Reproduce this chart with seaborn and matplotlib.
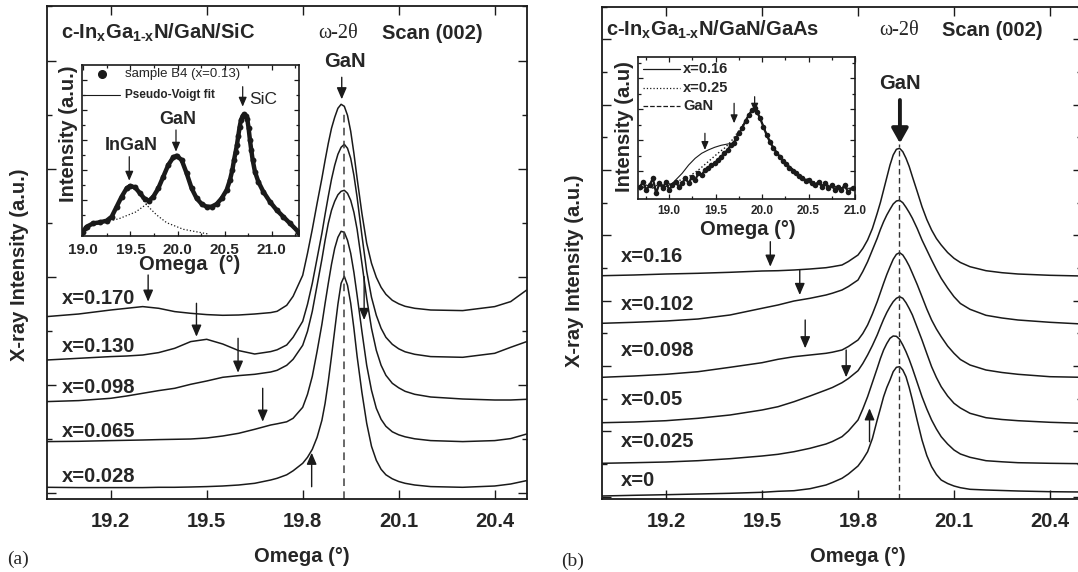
import matplotlib
matplotlib.use("Agg")
import matplotlib.pyplot as plt
import seaborn as sns
import pandas as pd
from matplotlib.ticker import MultipleLocator, FixedLocator, FormatStrFormatter

# ======================= DATA =======================
# ---- Panel (a): c-InxGa1-xN/GaN/SiC, omega-2theta scan (002), stacked curves (a.u.)
omega_a = [19.0, 19.1, 19.2, 19.25, 19.3, 19.35, 19.4, 19.45, 19.5, 19.55, 19.6, 19.65, 19.7,
           19.72, 19.75, 19.77, 19.8, 19.815, 19.83, 19.845, 19.86, 19.87, 19.88, 19.89,
           19.9, 19.91, 19.92, 19.93, 19.94, 19.95, 19.96, 19.97, 19.985, 20.0, 20.015,
           20.03, 20.045, 20.06, 20.08, 20.1, 20.12, 20.15, 20.2, 20.3, 20.4, 20.45, 20.5]
a_x0170 = [176.7, 179.3, 183.3, 185, 186.7, 185, 181.7, 180, 178.7, 178, 178.3, 179.3, 180.7,
           182, 188, 197, 218, 240, 264, 290, 315, 333, 350, 365,
           376, 385, 389, 387, 378, 362, 340, 315, 280, 250, 230,
           216, 206, 199, 193, 189.5, 187, 185, 183.3, 182.7, 186.7, 191.7, 203.3]
a_x0130 = [133.3, 135, 136.7, 137.3, 138.3, 140.7, 145, 151.7, 154, 149.3, 142.7, 139.3, 141.7,
           143.5, 148.3, 156, 172, 189, 210, 235, 260, 279, 297, 314,
           328, 339, 346, 349, 345, 335, 318, 296, 258, 222, 196,
           178, 165, 156, 149, 144.5, 141.5, 139, 136.7, 136, 140, 146, 151.7]
a_x0098 = [91.7, 92.7, 95, 97.3, 100, 102.7, 105, 109, 112.3, 116, 117.7, 119, 121.3,
           123, 128, 134, 148, 162, 182, 208, 234, 253, 270, 283,
           292, 298.5, 302, 303, 300, 293, 281, 264, 230, 195, 165,
           143, 128, 118, 110, 105.5, 102, 99, 96.3, 94.3, 93.3, 93.3, 94]
a_x0065 = [51.7, 52, 52.7, 53, 53.3, 53.7, 54, 54.3, 55.3, 57.3, 60, 64, 68.3,
           69.5, 71.5, 75, 86, 99, 117, 142, 169, 190, 210, 229,
           245, 256, 262, 261, 253, 240, 221, 198, 162, 128, 103,
           85, 74, 67, 61.5, 58.5, 56.5, 54.5, 52.7, 51.7, 52.7, 54.7, 59.3]
a_x0028 = [6, 5.7, 5.7, 5.7, 5.7, 6, 6, 6.3, 6.7, 7.3, 8.3, 10, 13.3,
           15, 18.5, 22.5, 30, 36, 44, 56, 73, 90, 112, 137,
           163, 189, 210, 217, 208, 190, 165, 137, 101, 70, 47,
           33, 24, 18.5, 14.5, 11.8, 10, 8.3, 6.7, 6, 7.3, 9.3, 12.7]
labels_a = ["x=0.170", "x=0.130", "x=0.098", "x=0.065", "x=0.028"]
gan_peak_a = 19.928
arrows_a_omega = [19.317, 19.468, 19.598, 19.675, 19.992, 19.828]
arrows_a_from = [218.3, 190, 155, 105, 216.6, 6.6]
arrows_a_to = [191.6, 156.6, 120.6, 71.6, 173.3, 40.6]

# ---- Inset (a): sample B4 (x=0.13)
ins_a_omega = [18.993, 19.036, 19.107, 19.178, 19.248, 19.301, 19.354, 19.407, 19.460, 19.496,
               19.549, 19.602, 19.655, 19.697, 19.743, 19.796, 19.849, 19.902, 19.955, 19.990,
               20.044, 20.097, 20.150, 20.203, 20.256, 20.309, 20.362, 20.416, 20.469, 20.522,
               20.557, 20.582, 20.600, 20.617, 20.631, 20.645, 20.660, 20.674, 20.691, 20.709,
               20.727, 20.741, 20.755, 20.769, 20.783, 20.798, 20.822, 20.858, 20.911, 20.981,
               21.052, 21.123, 21.193, 21.282]
ins_a_int = [4.3, 9.3, 12.7, 13.7, 15.3, 19.3, 29.3, 39.3, 47.7, 50,
             48.7, 42.7, 36.7, 35.3, 39.3, 47.7, 59.3, 71, 78.7, 80.3,
             76, 62.7, 47.7, 37.7, 32, 29.3, 29.3, 32, 37.7, 46,
             56, 66, 76, 84, 91, 100, 109.3, 116, 120, 121.7,
             120.3, 116.7, 107.7, 96, 86, 76, 64.3, 54.3, 44.3, 34.3,
             26, 19.3, 12.7, 4.3]
comp_gan_omega = [19.007, 19.202, 19.379, 19.556, 19.708, 19.796]
comp_gan_int = [9.3, 13.3, 17.3, 24, 34.3, 44.3]
comp_ingan_omega = [19.620, 19.690, 19.779, 19.885, 20.062, 20.327]
comp_ingan_int = [37.7, 29.3, 21, 13.3, 6.7, 2]

# ---- Panel (b): c-InxGa1-xN/GaN/GaAs
omega_b = [19.0, 19.1, 19.2, 19.3, 19.4, 19.5, 19.55, 19.6, 19.65, 19.7,
           19.72, 19.75, 19.77, 19.8, 19.815, 19.83, 19.845, 19.86, 19.87, 19.88, 19.89,
           19.9, 19.91, 19.92, 19.93, 19.94, 19.95, 19.96, 19.97, 19.985, 20.0, 20.015,
           20.03, 20.045, 20.06, 20.08, 20.1, 20.12, 20.15, 20.2, 20.25, 20.3, 20.4, 20.5]
b_x016 = [220.8, 221.5, 222.5, 223.2, 224.2, 225.5, 225.8, 226.5, 227.5, 228.8,
          229.8, 231.5, 235, 241.5, 248, 256.5, 268, 283.2, 294, 306.5, 319,
          331.5, 341.5, 347.2, 348.2, 344.8, 338.2, 330, 319.8, 305, 289.8, 277,
          266.5, 258, 251.5, 244, 238.2, 234, 229.8, 225.8, 223.8, 222.5, 221.2, 220.5]
b_x0102 = [173.2, 174.2, 175.5, 177.5, 181.5, 188.2, 191.5, 195.5, 198.2, 201.5,
           203.3, 206.5, 210, 216.5, 225, 234.8, 246.5, 258.2, 267, 274.8, 281.5,
           287.2, 292.5, 295.5, 296.2, 293.8, 289.2, 284, 278.2, 268, 256.5, 246.5,
           236.5, 227, 218.2, 208.5, 199.8, 193, 187.2, 181.2, 178.5, 176.5, 174.2, 172.5]
b_x0098 = [119.2, 120.5, 122.2, 124.8, 129.2, 133.8, 137.2, 139.8, 141.5, 143.2,
           144.3, 146.5, 150, 156.5, 163, 171.5, 182.5, 194.8, 204, 213.2, 222,
           229.8, 237.2, 242.2, 243.8, 241.5, 236.5, 230.5, 223.2, 212, 199.8, 187.5,
           176.5, 167.5, 159.8, 150.5, 143.2, 137, 131.5, 126.5, 124, 122.2, 119.8, 119.2]
b_x005 = [73.8, 74.5, 75.8, 78.2, 81.5, 86.5, 89.8, 94.8, 100.5, 106.5,
          109, 113.8, 118, 125.8, 133, 141.5, 151, 161.5, 169.5, 177.2, 184,
          189.8, 194.8, 198.2, 199.8, 198.2, 193.8, 188, 181.5, 169, 156.5, 143,
          129.8, 119, 109.8, 100.5, 93.2, 88.5, 83.2, 78.8, 77, 75.8, 74.2, 73.2]
b_x0025 = [33.2, 33.8, 34.5, 35.8, 37.8, 40.5, 42.2, 44.8, 48.2, 52.5,
           55, 59.8, 65.5, 76.5, 87.5, 99.8, 114, 128.2, 138, 146.5, 153,
           158.2, 160.5, 160.2, 157.2, 151.5, 144.8, 137, 128.2, 114, 99.8, 87.5,
           76.5, 67.5, 59.8, 52.5, 46.5, 42.5, 39.2, 35.8, 34.7, 33.8, 33.2, 32.8]
b_x0 = [0.5, 1.2, 1.8, 2.5, 3.2, 4.2, 5.2, 5.8, 7.8, 11.5,
        14, 18.2, 22.5, 30.5, 37, 44.8, 58, 76.5, 88, 99.8, 109,
        116.5, 124.8, 129.2, 129.8, 126.5, 119.8, 109, 96.5, 76, 56.5, 41,
        29.8, 22, 16.5, 13, 10.5, 8.8, 7.2, 6.5, 6, 5.5, 4.8, 4.5]
labels_b = ["x=0.16", "x=0.102", "x=0.098", "x=0.05", "x=0.025", "x=0"]
gan_peak_b = 19.928
arrows_b_omega = [19.526, 19.618, 19.635, 19.763, 19.836]
arrows_b_from = [254.8, 226.5, 176.5, 146.5, 54.8]
arrows_b_to = [229.8, 201.5, 148.2, 119.2, 88.2]

# ---- Inset (b)
ins_b_gan_omega = [18.685, 18.720, 18.755, 18.790, 18.825, 18.860, 18.895, 18.930, 18.965, 19.000,
                   19.035, 19.070, 19.105, 19.140, 19.175, 19.210, 19.245, 19.280, 19.315, 19.350,
                   19.385, 19.420, 19.455, 19.490, 19.524, 19.559, 19.594, 19.629, 19.664, 19.699,
                   19.717, 19.752, 19.787, 19.822, 19.857, 19.892, 19.920, 19.944, 19.979, 20.014,
                   20.049, 20.084, 20.119, 20.154, 20.189, 20.224, 20.259, 20.294, 20.329, 20.364,
                   20.399, 20.434, 20.469, 20.503, 20.538, 20.573, 20.608, 20.643, 20.678, 20.713,
                   20.748, 20.783, 20.818, 20.853, 20.888, 20.923, 20.976]
ins_b_gan_int = [11.0, 16.0, 7.7, 12.7, 19.4, 4.4, 14.4, 9.4, 16.0, 7.7,
                 12.7, 16.0, 11.0, 14.4, 19.4, 14.4, 21.0, 17.7, 24.4, 22.7,
                 27.7, 29.4, 32.7, 34.4, 37.7, 41.0, 44.4, 47.7, 52.7, 55.0,
                 59.4, 64.4, 70.0, 76.7, 82.7, 87.7, 89.4, 86.0, 79.4, 71.0,
                 62.7, 56.0, 50.0, 45.0, 41.0, 37.0, 33.4, 30.0, 27.0, 24.4,
                 21.7, 19.4, 16.7, 17.7, 14.4, 12.7, 16.0, 11.0, 14.4, 9.4,
                 12.7, 7.7, 11.0, 7.7, 12.7, 6.0, 9.4]
ins_b_016_omega = [18.685, 18.755, 18.825, 18.895, 18.965, 19.035, 19.070, 19.140, 19.210, 19.280,
                   19.350, 19.420, 19.490, 19.559, 19.629, 19.682, 19.717, 19.752, 19.787, 19.822,
                   19.857, 19.892, 19.920, 19.944, 19.979, 20.014, 20.049, 20.084, 20.119, 20.189,
                   20.259, 20.329, 20.399, 20.469, 20.538, 20.608, 20.678, 20.748, 20.818, 20.888,
                   20.976]
ins_b_016_int = [7.7, 12.7, 9.4, 14.4, 11.0, 14.4, 17.7, 24.4, 32.7, 39.4,
                 44.4, 47.7, 50.4, 52.4, 53.7, 54.4, 58.4, 64.4, 70.4, 77.0,
                 82.7, 87.7, 89.4, 86.0, 79.4, 71.7, 63.7, 57.0, 51.0, 41.7,
                 34.4, 27.7, 22.4, 18.4, 15.7, 13.7, 12.4, 11.0, 10.4, 9.7,
                 9.0]
ins_b_025_omega = [18.685, 18.860, 19.035, 19.210, 19.315, 19.420, 19.524, 19.594, 19.664, 19.717,
                   19.769, 19.822, 19.874, 19.920, 19.979, 20.049, 20.119, 20.259, 20.434, 20.608,
                   20.783, 20.976]
ins_b_025_int = [9.4, 11.0, 14.4, 21.0, 27.7, 36.0, 44.4, 49.4, 56.0, 62.7,
                 69.4, 77.0, 84.4, 89.0, 80.0, 63.7, 51.0, 34.4, 20.4, 14.4,
                 11.0, 9.4]
ins_b_arrow_omega = [19.920, 19.699, 19.385]
ins_b_arrow_from = [101.0, 94.4, 64.4]
ins_b_arrow_to = [86.0, 74.4, 47.7]

# ======================= STYLE =======================
W, H, DPI = 1078, 572, 100
sns.set_theme(style="ticks")
plt.rcParams["font.family"] = ["Liberation Sans", "DejaVu Sans"]
plt.rcParams["font.weight"] = "bold"
plt.rcParams["mathtext.fontset"] = "custom"
plt.rcParams["mathtext.rm"] = "Liberation Sans:bold"
plt.rcParams["mathtext.it"] = "Liberation Sans:bold"
plt.rcParams["mathtext.bf"] = "Liberation Sans:bold"
SERIF = ["Liberation Serif", "DejaVu Serif"]
FS = 14.5

fig = plt.figure(figsize=(W / DPI, H / DPI), dpi=DPI)


def fx(px):
    return px / W


def fy(py):
    return 1 - py / H


def rect(x0, y0, x1, y1):
    return [fx(x0), fy(y1), (x1 - x0) / W, (y1 - y0) / H]


ax_a = fig.add_axes(rect(46.7, 6.0, 526.7, 499.3))
ax_b = fig.add_axes(rect(602.0, 6.5, 1082.0, 499.3))


def long_df(omega, curves, labels):
    frames = []
    for c, lab in zip(curves, labels):
        frames.append(pd.DataFrame({"omega": omega, "I": c, "sample": lab}))
    return pd.concat(frames, ignore_index=True)


df_a = long_df(omega_a, [a_x0170, a_x0130, a_x0098, a_x0065, a_x0028], labels_a)
df_b = long_df(omega_b, [b_x016, b_x0102, b_x0098, b_x005, b_x0025, b_x0], labels_b)

for ax, df in ((ax_a, df_a), (ax_b, df_b)):
    sns.lineplot(data=df, x="omega", y="I", units="sample", estimator=None,
                 color="k", lw=1.1, ax=ax, legend=False)


def style_main(ax, ylim, ymaj):
    ax.set_xlim(19.0, 20.5)
    ax.set_ylim(*ylim)
    ax.xaxis.set_major_locator(FixedLocator([19.2, 19.5, 19.8, 20.1, 20.4]))
    ax.xaxis.set_major_formatter(FormatStrFormatter("%.1f"))
    ax.yaxis.set_major_locator(MultipleLocator(ymaj))
    ax.yaxis.set_minor_locator(MultipleLocator(ymaj / 2))
    ax.tick_params(which="both", direction="in", top=True, right=True, labelleft=False,
                   width=1.0, color="k")
    ax.tick_params(which="major", length=6.5)
    ax.tick_params(which="minor", length=3.5)
    ax.tick_params(axis="x", labelsize=FS, pad=9)
    ax.set_xlabel("")
    ax.set_ylabel("")
    for s in ax.spines.values():
        s.set_linewidth(1.3)
        s.set_color("k")


style_main(ax_a, (-6, 487.3), 108.2)
style_main(ax_b, (-2.8, 490), 65.3)


def arrow(ax, x, y0, y1, lw=1.0, hl=0.7, hw=0.3, ms=10):
    ax.annotate("", xy=(x, y1), xytext=(x, y0),
                arrowprops=dict(arrowstyle=f"-|>,head_length={hl},head_width={hw}",
                                color="k", lw=lw, mutation_scale=ms,
                                shrinkA=0, shrinkB=0))


TITLE_A = r"c-In$_{x}$Ga$_{1\text{-}x}$N/GaN/SiC"
TITLE_B = r"c-In$_{x}$Ga$_{1\text{-}x}$N/GaN/GaAs"

# ---- panel (a) annotations
ax_a.plot([gan_peak_a, gan_peak_a], [-6, 383], ls=(0, (5, 3.5)), lw=1.1, color="0.25")
for xo, y0, y1 in zip(arrows_a_omega, arrows_a_from, arrows_a_to):
    arrow(ax_a, xo, y0, y1)
arrow(ax_a, gan_peak_a - 0.006, 416, 394)
for lab, yy in zip(labels_a, [195, 147.3, 105.6, 61.6, 17.3]):
    ax_a.text(19.046, yy, lab, fontsize=FS, ha="left", va="center")
ax_a.text(19.045, 460, TITLE_A, fontsize=FS, ha="left", va="center")
ax_a.text(19.849, 460, "ω-2θ", fontsize=FS, family=SERIF, fontweight="normal",
          ha="left", va="center")
ax_a.text(20.048, 460, "Scan (002)", fontsize=FS, ha="left", va="center")
ax_a.text(19.932, 432, "GaN", fontsize=FS, ha="center", va="center")

# ---- panel (b) annotations
ax_b.plot([gan_peak_b, gan_peak_b], [-2.8, 353], ls=(0, (4, 2.5)), lw=1.0, color="0.2")
for xo, y0, y1 in zip(arrows_b_omega, arrows_b_from, arrows_b_to):
    arrow(ax_b, xo, y0, y1)
arrow(ax_b, gan_peak_b + 0.003, 396.5, 353.2, lw=2.8, hl=0.8, hw=0.45, ms=11)
for lab, yy in zip(labels_b, [239.8, 192.2, 146.5, 97.2, 54.8, 15.8]):
    ax_b.text(19.058, yy, lab, fontsize=FS, ha="left", va="center")
ax_b.text(19.011, 466.5, TITLE_B, fontsize=FS, ha="left", va="center")
ax_b.text(19.867, 466.5, "ω-2θ", fontsize=FS, family=SERIF, fontweight="normal",
          ha="left", va="center")
ax_b.text(20.061, 466.5, "Scan (002)", fontsize=FS, ha="left", va="center")
ax_b.text(19.930, 413.2, "GaN", fontsize=FS, ha="center", va="center")

# ---- axis labels & panel letters
fig.text(fx(20), fy(265), "X-ray Intensity (a.u.)", rotation=90, fontsize=FS,
         ha="center", va="center")
fig.text(fx(575), fy(271), "X-ray Intensity (a.u.)", rotation=90, fontsize=FS,
         ha="center", va="center")
fig.text(fx(302), fy(557), "Omega (°)", fontsize=FS, ha="center", va="center")
fig.text(fx(858), fy(556), "Omega (°)", fontsize=FS, ha="center", va="center")
fig.text(fx(18), fy(559), "(a)", fontsize=14, family=SERIF, fontweight="normal",
         ha="center", va="center")
fig.text(fx(573), fy(561), "(b)", fontsize=14, family=SERIF, fontweight="normal",
         ha="center", va="center")


def style_inset(ax, xlim, ylim, ymaj0, ystep, lsize, pad):
    ax.set_xlim(*xlim)
    ax.set_ylim(*ylim)
    ax.xaxis.set_major_locator(MultipleLocator(0.5))
    ax.xaxis.set_minor_locator(MultipleLocator(0.25))
    ax.xaxis.set_major_formatter(FormatStrFormatter("%.1f"))
    majors = [ymaj0 + ystep * k for k in range(8) if ymaj0 + ystep * k < ylim[1]]
    minors = [m + ystep / 2 for m in majors if m + ystep / 2 < ylim[1]]
    ax.yaxis.set_major_locator(FixedLocator(majors))
    ax.yaxis.set_minor_locator(FixedLocator(minors))
    ax.tick_params(which="both", direction="in", top=True, right=True, labelleft=False,
                   width=0.9, color="k")
    ax.tick_params(which="major", length=3.5)
    ax.tick_params(which="minor", length=2)
    ax.tick_params(axis="x", labelsize=lsize, pad=pad)
    ax.set_xlabel("")
    ax.set_ylabel("")
    for s in ax.spines.values():
        s.set_linewidth(1.2)
        s.set_color("k")


# ---- inset (a)
ia = fig.add_axes(rect(81.7, 65, 299.3, 236))
ia.set_facecolor("white")
sns.lineplot(x=ins_a_omega, y=ins_a_int, color="k", lw=3.2, ax=ia,
             solid_capstyle="round")
sns.scatterplot(x=ins_a_omega, y=ins_a_int, color="k", s=18, linewidth=0, ax=ia)
sns.lineplot(x=comp_gan_omega, y=comp_gan_int, color="k", lw=0.9, ls=":", ax=ia)
sns.lineplot(x=comp_ingan_omega, y=comp_ingan_int, color="k", lw=0.9, ls=":", ax=ia)
style_inset(ia, (18.983, 21.293), (0, 171), 6, 30, 11, 5)
ia.plot([0.092], [0.946], "o", color="k", ms=5.5, transform=ia.transAxes)
ia.text(0.199, 0.946, "sample B4 (x=0.13)", fontsize=9.5, fontweight="normal",
        transform=ia.transAxes, ha="left", va="center")
ia.plot([0.007, 0.176], [0.825, 0.825], color="k", lw=0.8, transform=ia.transAxes)
ia.text(0.199, 0.825, "Pseudo-Voigt fit", fontsize=8.5, transform=ia.transAxes,
        ha="left", va="center")
arrow(ia, 20.692, 149.3, 129.3, lw=0.9, ms=8)
arrow(ia, 19.984, 106, 84.3, lw=0.9, ms=8)
arrow(ia, 19.488, 79.3, 55.3, lw=0.9, ms=8)
ia.text(20.766, 136, "SiC", fontsize=12.5, fontweight="normal", ha="left", va="center")
ia.text(20.0, 116, "GaN", fontsize=13, ha="center", va="center")
ia.text(19.514, 90, "InGaN", fontsize=13, ha="center", va="center")
fig.text(fx(190), fy(265), "Omega  (°)", fontsize=FS, ha="center", va="center")
fig.text(fx(68), fy(134), "Intensity (a.u.)", rotation=90, fontsize=FS,
         ha="center", va="center")

# ---- inset (b)
ib = fig.add_axes(rect(638.3, 57, 855, 198.5))
ib.set_facecolor("white")
sns.lineplot(x=ins_b_gan_omega, y=ins_b_gan_int, color="k", lw=1.6, ax=ib)
sns.scatterplot(x=ins_b_gan_omega, y=ins_b_gan_int, color="k", marker="o", s=16,
                linewidth=0, ax=ib)
sns.lineplot(x=ins_b_025_omega, y=ins_b_025_int, color="k", lw=1.0, ls=":", ax=ib)
sns.lineplot(x=ins_b_016_omega, y=ins_b_016_int, color="k", lw=0.8, ax=ib)
style_inset(ib, (18.668, 21.0), (-0.8, 140.7), 26.7, 31, 8.5, 5)
for yy, ls, lab in ((0.915, "-", "x=0.16"), (0.783, ":", "x=0.25"), (0.654, "--", "GaN")):
    ib.plot([0.023, 0.193], [yy, yy], color="k", lw=0.9, ls=ls, transform=ib.transAxes)
    ib.text(0.208, yy, lab, fontsize=10.5, transform=ib.transAxes, ha="left", va="center")
for xo, y0, y1 in zip(ins_b_arrow_omega, ins_b_arrow_from, ins_b_arrow_to):
    arrow(ib, xo, y0, y1, lw=0.9, ms=7)
fig.text(fx(748), fy(229), "Omega (°)", fontsize=FS, ha="center", va="center")
fig.text(fx(624), fy(127), "Intensity (a.u)", rotation=90, fontsize=FS,
         ha="center", va="center")

fig.savefig("out.png", dpi=DPI)
